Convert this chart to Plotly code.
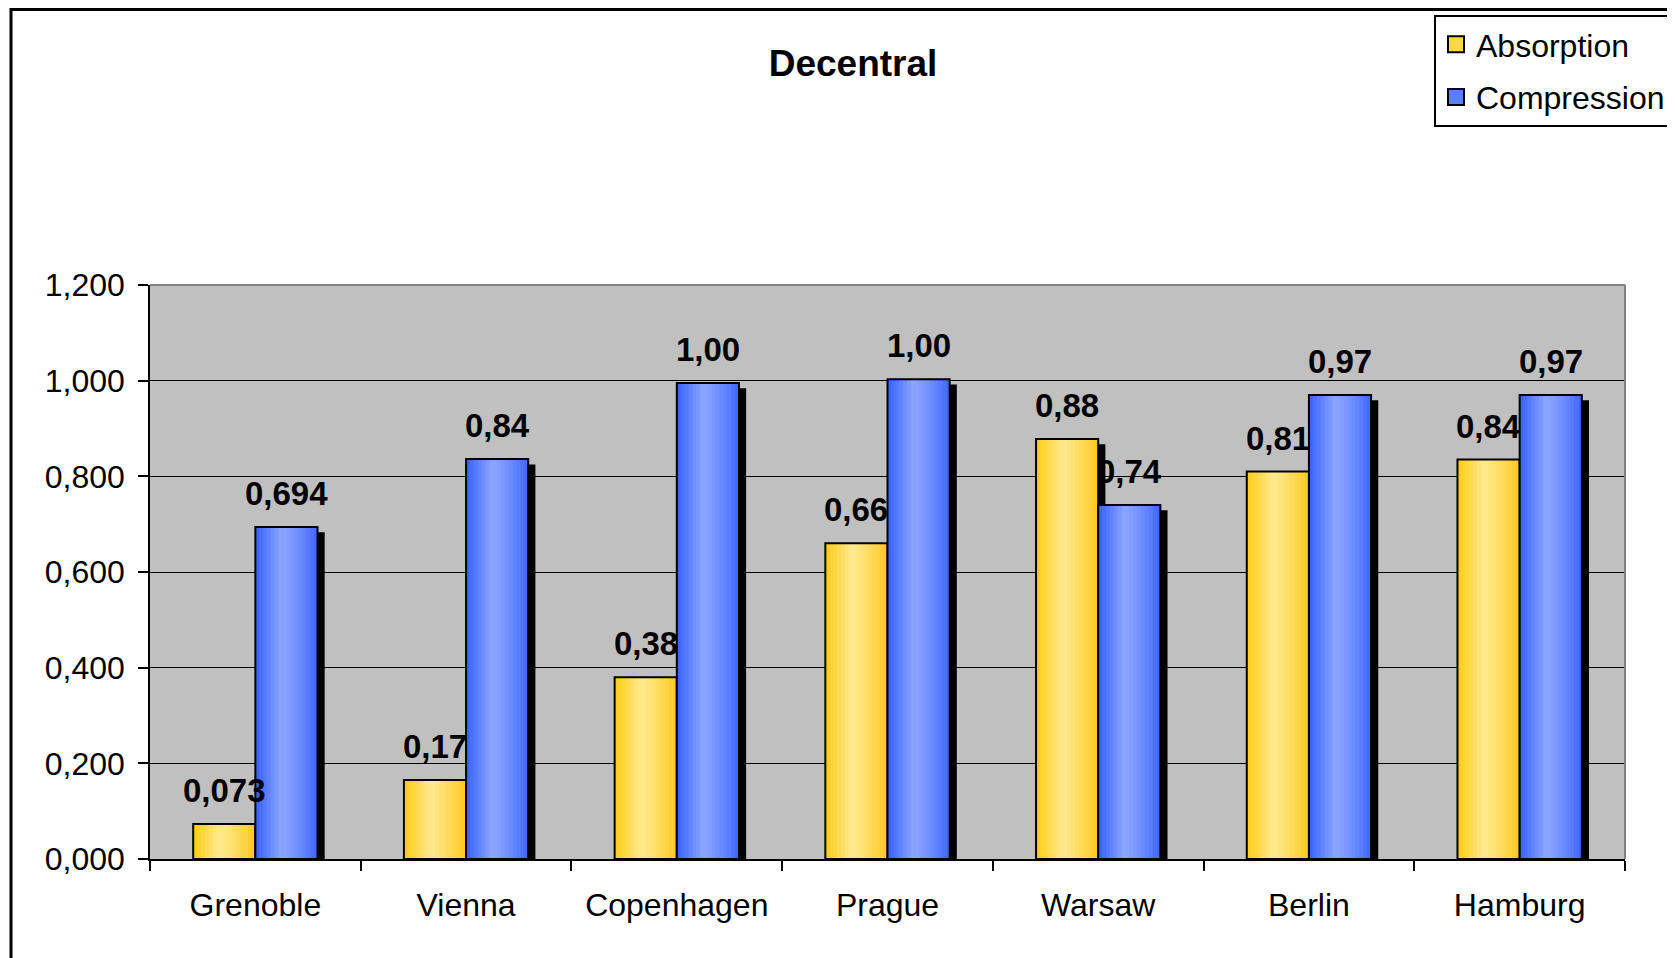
import plotly.graph_objects as go

# ---------------- data ----------------
categories = ["Grenoble", "Vienna", "Copenhagen", "Prague", "Warsaw", "Berlin", "Hamburg"]
absorption = [0.073, 0.165, 0.380, 0.660, 0.878, 0.810, 0.835]
compression = [0.694, 0.836, 0.995, 1.003, 0.740, 0.970, 0.970]
absorption_labels = ["0,073", "0,17", "0,38", "0,66", "0,88", "0,81", "0,84"]
compression_labels = ["0,694", "0,84", "1,00", "1,00", "0,74", "0,97", "0,97"]
y_tickvals = [0.0, 0.2, 0.4, 0.6, 0.8, 1.0, 1.2]
series_names = ["Absorption", "Compression"]

# ---------------- style ----------------
FONT = "Liberation Sans, Arial, sans-serif"
W = 0.295            # bar width (category units)
N_STRIPES = 16       # gradient stripes per bar
SH_DX = 0.034        # shadow offset (category units)
SH_DY = 0.011        # shadow offset (value units)

yellow_grad = ("#FFCB12", "#FFE98E", "#FFC81A")
blue_grad = ("#3760FF", "#8AA6FF", "#3F65FF")

OFF = 8                                   # page body margin
FW, FH = 1675, 958
PL, PR, PT, PB = 150 - OFF, 1625 - OFF, 285 - OFF, 859 - OFF   # plot area (figure px)
PW, PH = PR - PL, PB - PT


def hex2rgb(h):
    h = h.lstrip("#")
    return tuple(int(h[i:i + 2], 16) for i in (0, 2, 4))


def grad_color(grad, t, peak=0.42):
    l, c, r = (hex2rgb(g) for g in grad)
    if t <= peak:
        a, b, u = l, c, t / peak
    else:
        a, b, u = c, r, ((t - peak) / (1 - peak)) ** 1.3
    rgb = [round(a[k] + (b[k] - a[k]) * u) for k in range(3)]
    return "rgb(%d,%d,%d)" % tuple(rgb)


fig = go.Figure()

series = [
    (absorption, absorption_labels, yellow_grad, -W, "#FFD84A"),
    (compression, compression_labels, blue_grad, 0.0, "#5A7FFF"),
]

# shadows first
for vals, _, _, off, _ in series:
    fig.add_trace(go.Bar(
        x=categories, y=[v - SH_DY for v in vals], width=W, offset=off + SH_DX,
        marker=dict(color="black", line=dict(width=0)),
        showlegend=False, hoverinfo="skip"))

# gradient-filled bars with outlines
for vals, labels, grad, off, _ in series:
    sw = W / N_STRIPES
    for i in range(N_STRIPES):
        t = (i + 0.5) / N_STRIPES
        fig.add_trace(go.Bar(
            x=categories, y=vals,
            width=sw * (1.25 if i < N_STRIPES - 1 else 1.0),
            offset=off + i * sw,
            marker=dict(color=grad_color(grad, t), line=dict(width=0)),
            showlegend=False, hoverinfo="skip"))
    fig.add_trace(go.Bar(
        x=categories, y=vals, width=W, offset=off,
        marker=dict(color="rgba(0,0,0,0)", line=dict(color="black", width=2)),
        showlegend=False, hoverinfo="skip"))

# legend entries
for (vals, labels, grad, off, solid), name in zip(series, series_names):
    fig.add_trace(go.Scatter(
        x=[None], y=[None], mode="markers", name=name, legendgroup=name,
        marker=dict(symbol="square", size=16, color=solid,
                    line=dict(color="black", width=2))))

# data labels
annotations = []
for (vals, labels, grad, off, _) in series:
    for i, (v, lab) in enumerate(zip(vals, labels)):
        annotations.append(dict(
            x=i + off + W / 2, y=v, xref="x", yref="y", text=lab,
            showarrow=False, yanchor="bottom", xanchor="center", yshift=13,
            font=dict(family=FONT, size=33, color="black", weight="bold")))

shapes = [
    # plot area top / right border (grey)
    dict(type="line", xref="paper", yref="paper", x0=0, x1=1, y0=1, y1=1,
         line=dict(color="#808080", width=2)),
    dict(type="line", xref="paper", yref="paper", x0=1, x1=1, y0=0, y1=1,
         line=dict(color="#808080", width=2)),
    # outer chart frame
    dict(type="rect", xref="paper", yref="paper",
         x0=(11 - OFF - PL) / PW, x1=1.3, y0=-0.6, y1=(PB - 1.5) / PH,
         line=dict(color="black", width=3)),
]

fig.update_layout(
    width=FW, height=FH, autosize=False,
    margin=dict(l=PL, r=FW - PR, t=PT, b=FH - PB, pad=0, autoexpand=False),
    paper_bgcolor="white", plot_bgcolor="#C0C0C0",
    barmode="overlay",
    separators=",.",
    font=dict(family=FONT, color="black"),
    title=dict(text="<b>Decentral</b>", xref="container", yref="container",
               x=(853 - OFF) / FW, xanchor="center", y=1 - (63 - OFF) / FH,
               yanchor="middle",
               font=dict(family=FONT, size=37, color="black")),
    legend=dict(xref="paper", yref="paper", x=(1434 - OFF - PL) / PW,
                y=(PB - (15 - OFF)) / PH,
                xanchor="left", yanchor="top", bgcolor="white",
                bordercolor="black", borderwidth=2,
                font=dict(family=FONT, size=32, color="black"),
                tracegroupgap=8, traceorder="grouped"),
    xaxis=dict(type="category", range=[-0.5, 6.5], tickson="boundaries",
               ticks="outside", ticklen=10, tickwidth=1.5, tickcolor="black",
               showline=True, linecolor="black", linewidth=1.5, showgrid=False,
               tickangle=0,
               tickfont=dict(family=FONT, size=32, color="black"),
               ticklabelstandoff=17),
    yaxis=dict(range=[0, 1.2], tickmode="array", tickvals=y_tickvals,
               tickformat=".3f", ticks="outside", ticklen=10, tickwidth=1.5,
               tickcolor="black", showline=True, linecolor="black", linewidth=1.5,
               showgrid=True, gridcolor="black", gridwidth=1, zeroline=False,
               tickfont=dict(family=FONT, size=32, color="black"),
               ticklabelstandoff=7),
    annotations=annotations,
    shapes=shapes,
)

fig.write_html("out.html")
